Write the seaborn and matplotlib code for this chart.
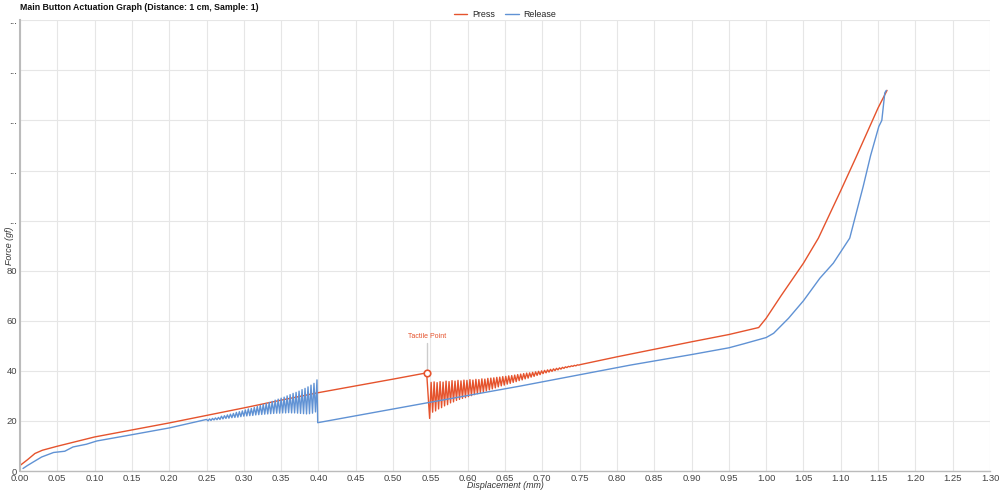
import pandas as pd
import matplotlib
matplotlib.use("Agg")
import matplotlib.pyplot as plt
import seaborn as sns

# press curve (displacement mm, force gf)
press_disp = [0.000, 0.010, 0.020, 0.030, 0.050, 0.100, 0.150, 0.200, 0.250, 0.300,
              0.350, 0.400, 0.450, 0.500, 0.545, 0.547,
              0.549, 0.551, 0.553, 0.555, 0.557, 0.559, 0.561, 0.563, 0.565, 0.567,
              0.569, 0.571, 0.573, 0.575, 0.577, 0.579, 0.581, 0.583, 0.585, 0.587,
              0.589, 0.591, 0.593, 0.595, 0.597, 0.599, 0.601, 0.603, 0.605, 0.607,
              0.609, 0.611, 0.613, 0.615, 0.617, 0.619, 0.621, 0.623, 0.625, 0.627,
              0.629, 0.631, 0.633, 0.635, 0.637, 0.639, 0.641, 0.643, 0.645, 0.647,
              0.649, 0.651, 0.653, 0.655, 0.657, 0.659, 0.661, 0.663, 0.665, 0.667,
              0.669, 0.671, 0.673, 0.675, 0.677, 0.679, 0.681, 0.683, 0.685, 0.687,
              0.689, 0.691, 0.693, 0.695, 0.697, 0.699, 0.701, 0.703, 0.705, 0.707,
              0.709, 0.711, 0.713, 0.715, 0.717, 0.719, 0.721, 0.723, 0.725, 0.727,
              0.729, 0.731, 0.733, 0.735, 0.737, 0.739, 0.741, 0.743, 0.745, 0.747,
              0.749, 0.751,
              0.800, 0.850, 0.900, 0.950, 0.990, 1.000, 1.020, 1.050, 1.070, 1.100,
              1.120, 1.150, 1.162]
press_force = [2.2, 4.5, 7.0, 8.3, 9.9, 13.6, 16.4, 19.2, 22.2, 25.2,
               28.3, 31.3, 34.0, 36.7, 39.2, 30.0,
               21.0, 35.4, 23.5, 35.6, 24.0, 35.3, 24.8, 35.7, 25.3, 35.5,
               26.0, 35.9, 26.5, 35.7, 27.2, 36.1, 27.6, 35.9, 28.2, 36.2,
               28.6, 36.0, 29.0, 36.3, 29.3, 36.2, 29.7, 36.5, 30.1, 36.3,
               30.5, 36.6, 30.9, 36.5, 31.3, 36.8, 31.6, 36.7, 32.0, 37.0,
               32.4, 37.1, 32.8, 37.2, 33.2, 37.4, 33.6, 37.5, 34.0, 37.7,
               34.3, 37.8, 34.7, 38.0, 35.0, 38.1, 35.4, 38.3, 35.7, 38.5,
               36.1, 38.7, 36.4, 38.9, 36.8, 39.1, 37.1, 39.2, 37.5, 39.4,
               37.8, 39.6, 38.2, 39.8, 38.5, 40.0, 38.9, 40.2, 39.2, 40.4,
               39.5, 40.6, 39.8, 40.8, 40.1, 41.0, 40.4, 41.2, 40.7, 41.4,
               41.0, 41.6, 41.3, 41.8, 41.6, 42.0, 41.8, 42.2, 42.0, 42.4,
               42.3, 42.5,
               45.6, 48.6, 51.6, 54.5, 57.3, 61.0, 70.0, 83.0, 93.0, 112.0,
               125.0, 145.0, 152.0]

# release curve
release_disp = [0.004, 0.010, 0.020, 0.029, 0.045, 0.060, 0.071, 0.089, 0.103, 0.150,
                0.200, 0.250, 0.252, 0.254, 0.256, 0.258, 0.260, 0.262, 0.264, 0.266,
                0.268, 0.270, 0.272, 0.274, 0.276, 0.278, 0.280, 0.282, 0.284, 0.286,
                0.288, 0.290, 0.292, 0.294, 0.296, 0.298, 0.300, 0.302, 0.304, 0.306,
                0.308, 0.310, 0.312, 0.314, 0.316, 0.318, 0.320, 0.322, 0.324, 0.326,
                0.328, 0.330, 0.332, 0.334, 0.336, 0.338, 0.340, 0.342, 0.344, 0.346,
                0.348, 0.350, 0.352, 0.354, 0.356, 0.358, 0.360, 0.362, 0.364, 0.366,
                0.368, 0.370, 0.372, 0.374, 0.376, 0.378, 0.380, 0.382, 0.384, 0.386,
                0.388, 0.390, 0.392, 0.394, 0.396, 0.398, 0.399,
                0.545, 0.670, 0.818, 0.900, 0.950, 0.970, 1.000, 1.010, 1.030, 1.050,
                1.072, 1.090, 1.112, 1.130, 1.140, 1.151, 1.155, 1.159, 1.161]
release_force = [1.0, 2.2, 4.0, 5.6, 7.4, 7.9, 9.6, 10.7, 12.0, 14.5,
                 17.2, 20.6, 20.0, 20.8, 20.2, 21.0, 20.4, 21.2, 20.5, 21.4,
                 20.6, 21.9, 20.8, 22.1, 21.0, 22.4, 21.1, 22.7, 21.3, 23.0,
                 21.4, 23.4, 21.5, 23.7, 21.7, 24.0, 21.9, 24.4, 22.0, 24.8,
                 22.1, 25.0, 22.2, 25.4, 22.4, 25.8, 22.5, 26.2, 22.6, 26.6,
                 22.7, 27.0, 22.8, 27.4, 22.9, 27.8, 23.0, 28.3, 23.1, 28.7,
                 23.1, 29.1, 23.2, 29.5, 23.2, 30.0, 23.3, 30.5, 23.2, 31.0,
                 23.2, 31.4, 23.1, 31.9, 23.0, 32.5, 22.9, 33.0, 22.8, 33.6,
                 22.9, 34.3, 23.1, 35.0, 23.6, 36.4, 19.3,
                 27.2, 33.9, 42.3, 46.5, 49.2, 50.8, 53.3, 55.0, 61.0, 68.0,
                 77.0, 83.0, 93.0, 113.6, 126.0, 137.6, 140.0, 151.0, 152.0]

tactile_disp = 0.545
tactile_force = 39.2

x_ticks = [0.00, 0.05, 0.10, 0.15, 0.20, 0.25, 0.30, 0.35, 0.40, 0.45, 0.50, 0.55, 0.60,
           0.65, 0.70, 0.75, 0.80, 0.85, 0.90, 0.95, 1.00, 1.05, 1.10, 1.15, 1.20,
           1.25, 1.30]
y_ticks = [0, 20, 40, 60, 80, 100, 120, 140, 160, 180]
y_labels = ["0", "20", "40", "60", "80", "...", "...", "...", "...", "..."]

press_color = "#e5532d"
release_color = "#6092d4"

press = pd.DataFrame({"disp": press_disp, "force": press_force})
release = pd.DataFrame({"disp": release_disp, "force": release_force})

sns.set_theme(style="whitegrid")
plt.rcParams["font.family"] = ["Liberation Sans", "DejaVu Sans"]

fig = plt.figure(figsize=(10, 4.91), dpi=100)
ax = fig.add_axes([0.02, 0.0407, 0.97, 0.918])

sns.lineplot(data=press, x="disp", y="force", sort=False, estimator=None, ax=ax,
             color=press_color, linewidth=1.0, label="Press")
sns.lineplot(data=release, x="disp", y="force", sort=False, estimator=None, ax=ax,
             color=release_color, linewidth=1.0, label="Release")

# tactile point annotation
ax.plot([tactile_disp, tactile_disp], [tactile_force + 1.5, 51], color="#cccccc",
        linewidth=1.0, zorder=1)
ax.scatter([tactile_disp], [tactile_force], s=22, facecolor="white",
           edgecolor=press_color, linewidth=1.2, zorder=5)
ax.text(tactile_disp, 52.3, "Tactile Point", color=press_color, fontsize=5.0,
        ha="center", va="bottom")

ax.set_xlim(0, 1.30)
ax.set_ylim(0, 180)
ax.set_xticks(x_ticks)
ax.set_xticklabels([f"{v:.2f}" for v in x_ticks])
ax.set_yticks(y_ticks)
ax.set_yticklabels(y_labels)
ax.tick_params(axis="both", labelsize=6.8, colors="#444444", length=0, pad=2)
ax.grid(True, color="#e6e6e6", linewidth=0.8)
for s in ["top", "right"]:
    ax.spines[s].set_visible(False)
ax.spines["left"].set_color("#bbbbbb")
ax.spines["left"].set_linewidth(1.5)
ax.spines["bottom"].set_color("#bbbbbb")
ax.spines["bottom"].set_linewidth(1.0)

ax.set_xlabel("Displacement (mm)", fontsize=6.4, style="italic", color="#333333",
              va="center")
ax.xaxis.set_label_coords(0.5, -0.033)
ax.set_ylabel("Force (gf)", fontsize=6.4, style="italic", color="#333333")
ax.yaxis.set_label_coords(-0.006, 0.5)

ax.legend(loc="center", bbox_to_anchor=(0.5, 1.013), ncol=2, frameon=False,
          fontsize=6.4, handlelength=1.5, handletextpad=0.5, columnspacing=1.2,
          borderaxespad=0, borderpad=0)
fig.text(0.02, 0.994, "Main Button Actuation Graph (Distance: 1 cm, Sample: 1)",
         fontsize=6.3, fontweight="bold", ha="left", va="top", color="#111111")

fig.savefig("out.png", dpi=100)
